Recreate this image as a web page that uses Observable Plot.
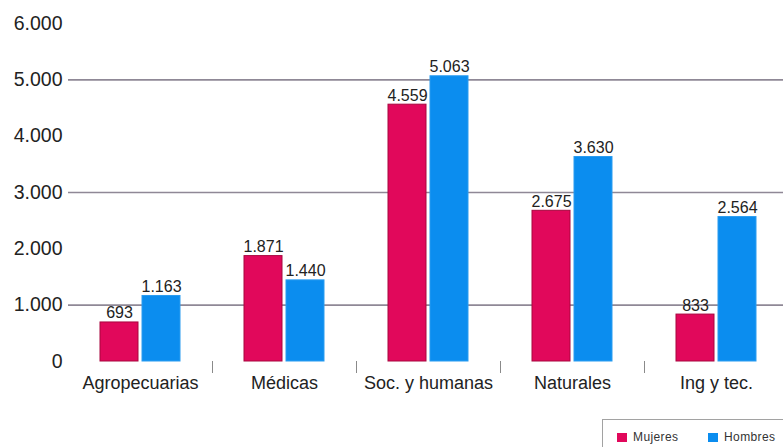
<!DOCTYPE html>
<html>
<head>
<meta charset="utf-8">
<script src="https://cdn.jsdelivr.net/npm/d3@7"></script>
<script src="https://cdn.jsdelivr.net/npm/@observablehq/plot@0.6"></script>
<style>
  body { margin: 0; background: #fff; overflow: hidden; font-family: "Liberation Sans", Arial, sans-serif; }
  #chart { position: relative; width: 783px; height: 447px; }
  .legend { position: absolute; left: 602px; top: 419px; width: 200px; height: 40px; border: 1px solid #a2a2a2; box-sizing: border-box; font-size: 12px; color: #333; }
  .item { position: absolute; top: 10px; display: flex; align-items: center; gap: 6px; letter-spacing: 0.4px; }
  .sw { width: 10px; height: 9px; display: inline-block; }
</style>
</head>
<body>
<div id="chart"></div>
<script>
// Titulados por área del conocimiento y sexo
const categories = ["Agropecuarias", "Médicas", "Soc. y humanas", "Naturales", "Ing y tec."];
const series = ["Mujeres", "Hombres"];
const mujeres = [693, 1871, 4559, 2675, 833];
const hombres = [1163, 1440, 5063, 3630, 2564];
const yTicks = [0, 1000, 2000, 3000, 4000, 5000, 6000];
const gridValues = [1000, 3000, 5000];
const fills = ["#e1085b", "#0b8def"];
const edges = ["#a8063f", "#2a9cf0"];

const fmt = d3.formatLocale({decimal: ",", thousands: ".", grouping: [3], currency: ["", ""]}).format(",d");

const rows = categories.flatMap((cat, i) => [
  {cat, sexo: series[0], valor: mujeres[i]},
  {cat, sexo: series[1], valor: hombres[i]}
]);

const barMarks = series.map((s, k) =>
  Plot.barY(rows, {
    filter: d => d.sexo === s,
    fx: "cat", x: "sexo", y: "valor",
    fill: fills[k], stroke: edges[k], strokeWidth: 1
  })
);

const chart = Plot.plot({
  width: 783,
  height: 415,
  marginLeft: 66,
  marginRight: -7,
  marginTop: 23,
  marginBottom: 54,
  style: {fontFamily: "Liberation Sans, Arial, sans-serif", color: "#222", background: "transparent"},
  fx: {domain: categories, padding: 0},
  x: {domain: series, paddingInner: 0.09, paddingOuter: 0.73, axis: null},
  y: {domain: [0, 6000]},
  marks: [
    Plot.ruleY(gridValues, {stroke: "#8f8896", strokeWidth: 1.6}),
    Plot.frame({anchor: "right", stroke: "#8a8a8a", insetTop: 327, dy: 11}),
    ...barMarks,
    Plot.text(rows, {
      fx: "cat", x: "sexo", y: "valor",
      text: d => fmt(d.valor),
      lineAnchor: "bottom", dy: -4, fontSize: 16, fill: "#222"
    }),
    Plot.axisY({ticks: yTicks, tickFormat: fmt, tickSize: 0, tickPadding: 6, fontSize: 19.5, label: null}),
    Plot.axisFx({anchor: "bottom", tickSize: 0, tickPadding: 15, fontSize: 18, label: null})
  ]
});

const root = document.getElementById("chart");
root.appendChild(chart);

const legend = document.createElement("div");
legend.className = "legend";
series.forEach((s, k) => {
  const item = document.createElement("div");
  item.className = "item";
  item.style.left = (k === 0 ? 14 : 105) + "px";
  const sw = document.createElement("span");
  sw.className = "sw";
  sw.style.background = fills[k];
  const label = document.createElement("span");
  label.textContent = s;
  item.append(sw, label);
  legend.appendChild(item);
});
root.appendChild(legend);
</script>
</body>
</html>
